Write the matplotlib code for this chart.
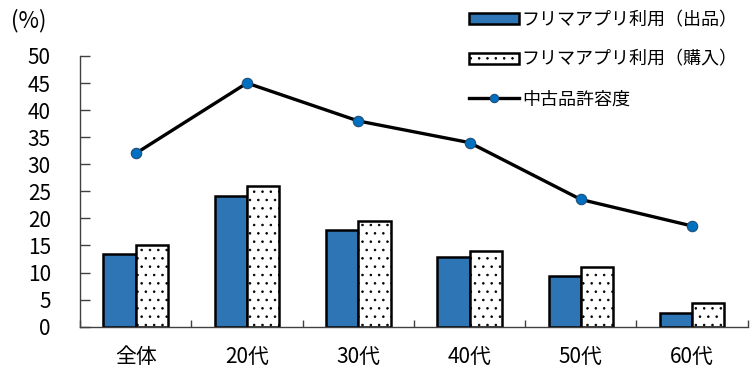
import numpy as np
import matplotlib.pyplot as plt
from matplotlib.ticker import MultipleLocator, FixedLocator

plt.rcParams['font.family'] = ['Noto Sans CJK JP', 'DejaVu Sans']
plt.rcParams['hatch.linewidth'] = 0.6

# Data (%)
categories = ['全体', '20代', '30代', '40代', '50代', '60代']
sell = [13.4, 24.2, 17.9, 12.9, 9.4, 2.5]
buy = [15.0, 25.9, 19.5, 13.9, 11.0, 4.3]
secondhand_ok = [32.0, 45.0, 38.0, 34.0, 23.5, 18.6]

label_sell = 'フリマアプリ利用（出品）'
label_buy = 'フリマアプリ利用（購入）'
label_line = '中古品許容度'

fig = plt.figure(figsize=(7.5, 3.71), dpi=100)
ax = fig.add_axes([0.1067, 0.1194, 0.8903, 0.7297])

x = np.arange(len(categories))
w = 0.29
b1 = ax.bar(x - w / 2, sell, w, color='#2E75B6', edgecolor='black',
            linewidth=1.8, label=label_sell, zorder=2)
b2 = ax.bar(x + w / 2, buy, w, color='white', edgecolor='black', hatch='..',
            linewidth=1.8, label=label_buy, zorder=2)
ln, = ax.plot(x, secondhand_ok, color='black', linewidth=2.4, marker='o',
              markersize=7.5, markerfacecolor='#0070C0',
              markeredgecolor='#1F4E79', markeredgewidth=0.8,
              label=label_line, zorder=3)

ax.set_xlim(-0.5, len(categories) - 0.5)
ax.set_ylim(0, 50)
ax.yaxis.set_major_locator(MultipleLocator(5))

ax.set_xticks(x)
ax.set_xticklabels(categories)
ax.xaxis.set_minor_locator(FixedLocator(np.arange(-0.5, len(categories), 1)))
ax.tick_params(axis='x', which='major', length=0, pad=14, labelsize=15)
ax.tick_params(axis='x', which='minor', direction='in', length=5,
               width=1, color='#404040')
ax.tick_params(axis='y', direction='in', length=7, width=1, color='#404040',
               pad=21, labelsize=15)

for s in ['top', 'right']:
    ax.spines[s].set_visible(False)
for s in ['left', 'bottom']:
    ax.spines[s].set_color('#404040')
    ax.spines[s].set_linewidth(1)

fig.text(0.015, 0.945, '(%)', fontsize=16, va='center', ha='left')

ax.legend([b1, b2, ln], [label_sell, label_buy, label_line],
          loc='upper left', bbox_to_anchor=(0.571, 1.193), frameon=False,
          fontsize=13, handlelength=2.8, handleheight=0.55, markerscale=0.8,
          handletextpad=0.15, labelspacing=1.2, borderaxespad=0)

fig.savefig('out.png', dpi=100)
